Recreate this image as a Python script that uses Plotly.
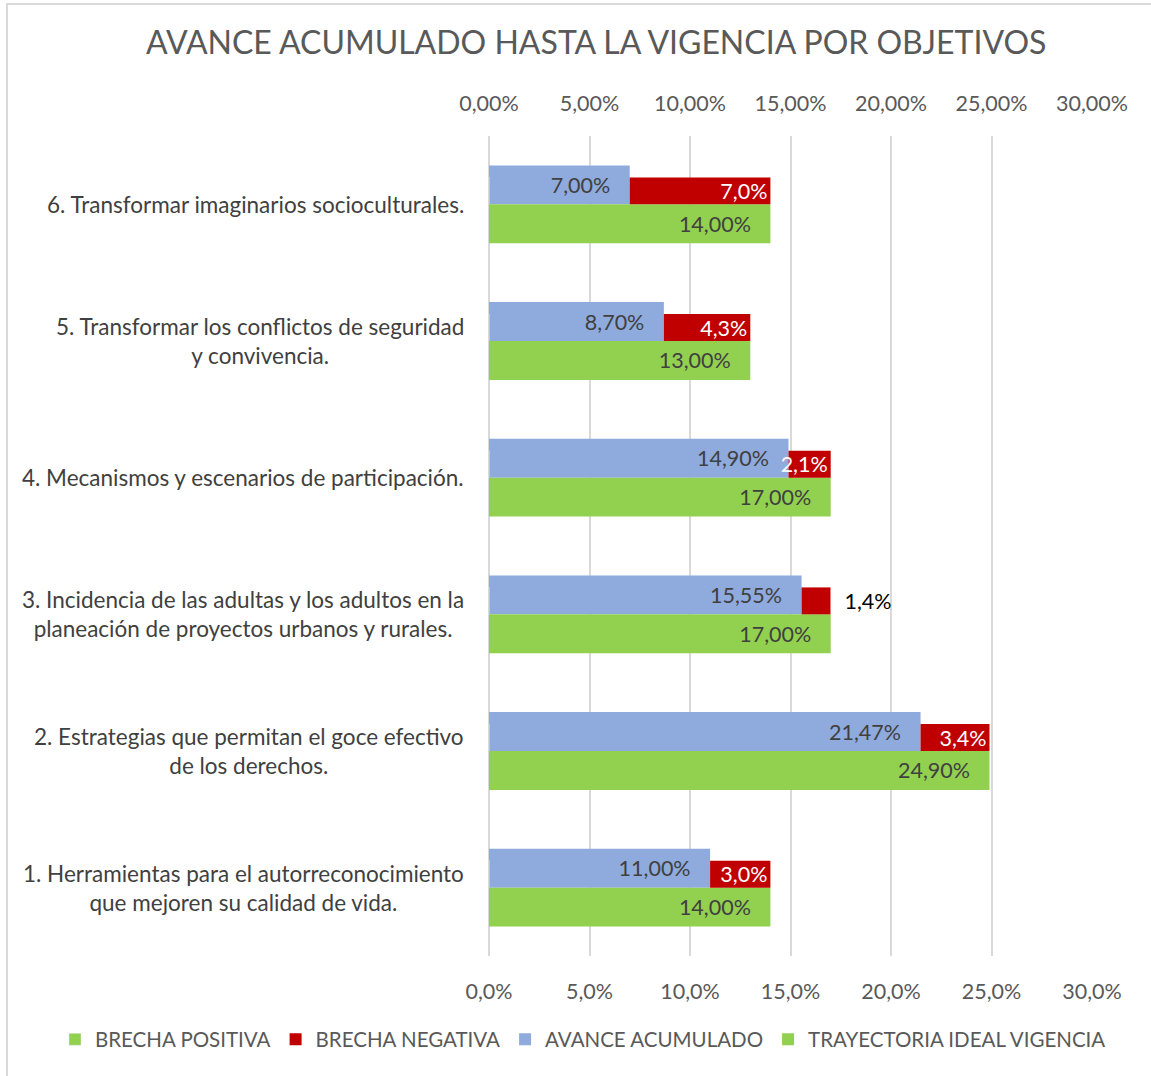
import plotly.graph_objects as go

categories = [
    "1. Herramientas para el autorreconocimiento<br>que mejoren su calidad de vida.",
    "2. Estrategias que permitan el goce efectivo<br>de los derechos.",
    "3. Incidencia de las adultas y los adultos en la<br>planeación de proyectos urbanos y rurales.",
    "4. Mecanismos y escenarios de participación.",
    "5. Transformar los conflictos de seguridad<br>y convivencia.",
    "6. Transformar imaginarios socioculturales.",
]
avance = [0.1100, 0.2147, 0.1555, 0.1490, 0.0870, 0.0700]
trayectoria = [0.1400, 0.2490, 0.1700, 0.1700, 0.1300, 0.1400]
brecha_negativa = [0.030, 0.0343, 0.0144, 0.021, 0.043, 0.070]
brecha_positiva = [0, 0, 0, 0, 0, 0]
x_ticks = [0, 0.05, 0.10, 0.15, 0.20, 0.25, 0.30]

FONT = "Lato"
GRAY = "#595959"
DARK = "#404040"
NB = "\u00a0"
LBL = 21.5

def fmt(v, d):
    return (f"{v*100:.{d}f}").replace(".", ",") + "%"

ypos = list(range(len(categories)))

fig = go.Figure()

fig.add_trace(go.Bar(
    name="BRECHA POSITIVA", y=ypos, x=brecha_positiva, orientation="h",
    marker=dict(color="#92D050"), offset=0, width=0.2, xaxis="x2",
    hoverinfo="skip", showlegend=True, legendrank=1,
))

fig.add_trace(go.Bar(
    name="AVANCE ACUMULADO", y=ypos, x=avance, orientation="h",
    marker=dict(color="#8FAADC", line=dict(width=0)),
    offset=0, width=0.285, legendrank=3,
    text=[fmt(v, 2) + NB * 3 for v in avance], textposition="inside",
    insidetextanchor="end", textfont=dict(color=DARK, size=LBL, family=FONT),
    textangle=0, constraintext="none", hoverinfo="skip",
))

fig.add_trace(go.Bar(
    name="TRAYECTORIA IDEAL VIGENCIA", y=ypos, x=trayectoria, orientation="h",
    marker=dict(color="#92D050", line=dict(width=0)),
    offset=-0.285, width=0.285, legendrank=4,
    text=[fmt(v, 2) + NB * 3 for v in trayectoria], textposition="inside",
    insidetextanchor="end", textfont=dict(color=DARK, size=LBL, family=FONT),
    textangle=0, constraintext="none", hoverinfo="skip",
))

red_pos = ["outside" if v < 0.018 else "inside" for v in brecha_negativa]
red_text = [(NB * 2 + fmt(v, 1)) if p == "outside" else fmt(v, 1)
            for v, p in zip(brecha_negativa, red_pos)]

fig.add_trace(go.Bar(
    name="BRECHA NEGATIVA", y=ypos, x=brecha_negativa, base=avance,
    orientation="h", marker=dict(color="#C00000", line=dict(width=0)),
    offset=0, width=0.197, xaxis="x2", legendrank=2,
    text=red_text, textposition=red_pos, insidetextanchor="end",
    insidetextfont=dict(color="white", size=LBL, family=FONT),
    outsidetextfont=dict(color="black", size=LBL, family=FONT),
    textangle=0, constraintext="none", cliponaxis=False, hoverinfo="skip",
))

annotations = []
for i, c in enumerate(categories):
    annotations.append(dict(
        text=c, x=0, xref="paper", y=i, yref="y", xanchor="right",
        yanchor="middle", xshift=-23, showarrow=False, align="center",
        font=dict(family=FONT, size=22.5, color=DARK),
    ))

fig.update_layout(
    width=1151, height=1076,
    margin=dict(l=489, r=59, t=136, b=120),
    paper_bgcolor="white", plot_bgcolor="white",
    separators=",.",
    barmode="overlay",
    font=dict(family=FONT, size=LBL, color=GRAY),
    title=dict(text="AVANCE ACUMULADO HASTA LA VIGENCIA POR OBJETIVOS",
               x=0.518, xref="container", xanchor="center",
               y=1 - 43 / 1076, yref="container", yanchor="middle",
               font=dict(family=FONT, size=32, color=GRAY)),
    xaxis=dict(range=[0, 0.30], tickvals=x_ticks, tickformat=".1%",
               showgrid=True, gridcolor="#D9D9D9", gridwidth=2,
               zeroline=True, zerolinecolor="#D9D9D9", zerolinewidth=2,
               showline=False, ticks="", ticklabelstandoff=20,
               tickfont=dict(family=FONT, size=LBL, color=GRAY), fixedrange=True),
    xaxis2=dict(range=[0, 0.30], tickvals=x_ticks, tickformat=".2%",
                overlaying="x", side="top", showgrid=False, zeroline=False,
                showline=False, ticks="", ticklabelstandoff=20,
                tickfont=dict(family=FONT, size=LBL, color=GRAY), fixedrange=True),
    yaxis=dict(range=[-0.5, 5.5], showticklabels=False, showgrid=False,
               zeroline=False, showline=False, fixedrange=True),
    legend=dict(orientation="h", x=(55 - 489) / 603, xanchor="left", xref="paper",
                y=(956.4 - 1040) / 820.8, yref="paper", yanchor="middle",
                font=dict(family=FONT, size=20.5, color=GRAY),
                traceorder="normal", itemclick=False, itemdoubleclick=False),
    annotations=annotations,
    shapes=[dict(type="rect", xref="paper", yref="paper",
                 x0=(7 - 489) / 603, x1=(1165 - 489) / 603,
                 y0=(956.4 - 1090) / 820.8, y1=(956.4 - 3.5) / 820.8,
                 line=dict(color="#D9D9D9", width=2), layer="below")],
)

fig.write_html("out.html", config={"displayModeBar": False},
               post_script="document.body.style.margin='0';document.body.style.overflow='hidden';")
